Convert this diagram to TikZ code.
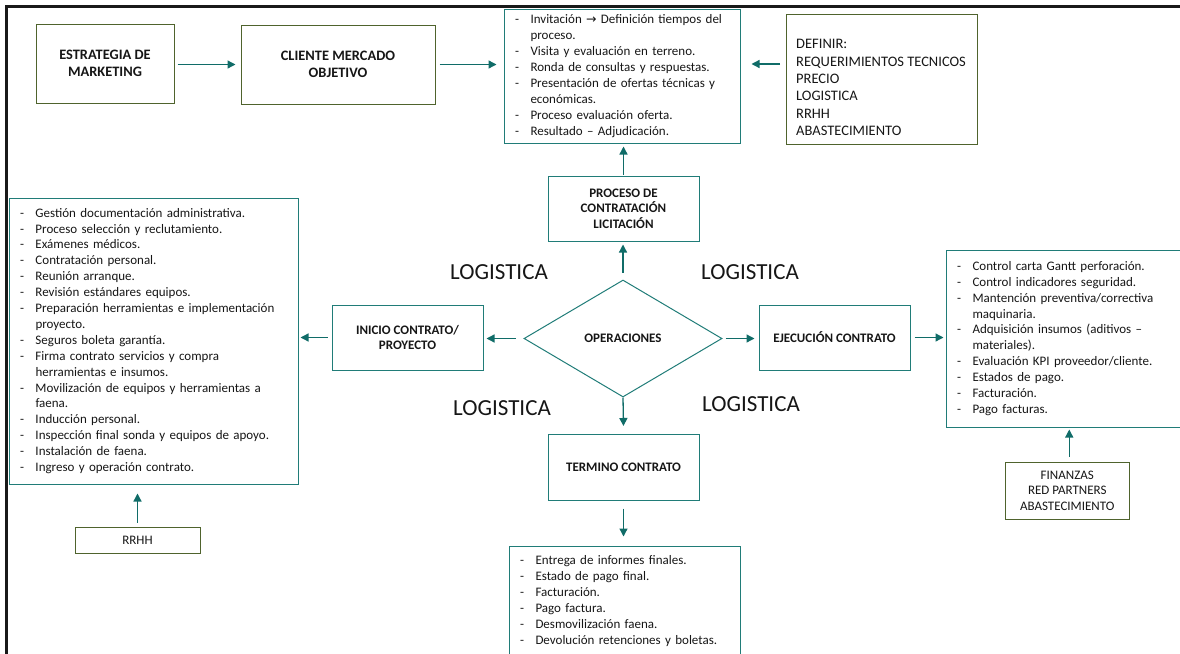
\documentclass[tikz,border=0pt]{standalone}
\usepackage{fontspec}
\setmainfont{Carlito}
\newfontfamily\symfont{DejaVu Sans}
\usetikzlibrary{arrows.meta,shapes.geometric}

\definecolor{tealline}{RGB}{32,124,120}
\definecolor{tealarrow}{RGB}{16,108,104}
\definecolor{olivegreen}{RGB}{79,99,45}
\definecolor{ink}{RGB}{22,22,22}

% list helpers: leading dash and hanging indent for continued lines
\newcommand\itm{\makebox[15.5pt][l]{-}}
\newcommand\cnt{\hspace*{15.5pt}}

\begin{document}
\begin{tikzpicture}[x=1pt,y=-1pt,
  tealbox/.style={draw=tealline, line width=1pt, inner sep=0pt, align=center, text=ink},
  greenbox/.style={draw=olivegreen, line width=1pt, inner sep=0pt, align=center, text=ink},
  listbox/.style={draw=tealline, line width=1pt, inner xsep=11pt, inner ysep=0pt,
    align=left, text=ink, font=\fontsize{13}{15.9}\selectfont},
  topbold/.style={font=\bfseries\fontsize{14.4}{17}\selectfont},
  midbold/.style={font=\bfseries\fontsize{13}{15.6}\selectfont},
  plain/.style={font=\fontsize{13}{15.6}\selectfont},
  logi/.style={text=ink, inner sep=0pt, font=\fontsize{23}{27}\selectfont},
  arr/.style={draw=tealarrow, line width=1.3pt, -{Triangle[length=8pt,width=8pt]}}
]
\useasboundingbox (0,0) rectangle (1180,653);
\clip (0,0) rectangle (1180,653);

% outer frame
\draw[line width=2.6pt, black!90] (6.5,660) -- (6.5,6.5) -- (1190,6.5);

% top row
\node[greenbox, topbold, minimum width=138pt, minimum height=79pt] (strat) at (105,63.5) {ESTRATEGIA DE\\MARKETING};
\node[greenbox, topbold, minimum width=194pt, minimum height=79pt] (cliente) at (338,64.5) {CLIENTE MERCADO\\OBJETIVO};

\node[listbox, text width=214pt, minimum width=236pt, minimum height=134pt] (lic) at (622,76) {%
\itm Invitación {\symfont\fontsize{12.5}{13}\selectfont →} Definición tiempos del\\
\cnt proceso.\\
\itm Visita y evaluación en terreno.\\
\itm Ronda de consultas y respuestas.\\
\itm Presentación de ofertas técnicas y\\
\cnt económicas.\\
\itm Proceso evaluación oferta.\\
\itm Resultado – Adjudicación.};

\node[greenbox, minimum width=190.5pt, minimum height=130pt] (defbox) at (881.75,79) {};
\node[anchor=west, align=left, inner sep=0pt, text=ink, font=\fontsize{14.5}{17.3}\selectfont] (deftext) at (796,87.5) {%
DEFINIR:\\REQUERIMIENTOS TECNICOS\\PRECIO\\LOGISTICA\\RRHH\\ABASTECIMIENTO};

% central column
\node[tealbox, midbold, minimum width=151pt, minimum height=65pt] (proc) at (623.5,208.5) {PROCESO DE\\CONTRATACIÓN\\LICITACIÓN};
\node[diamond, draw=tealline, line width=1pt, inner sep=0pt, text=ink, midbold,
  minimum width=198pt, minimum height=117pt] (ops) at (623,338.5) {OPERACIONES};
\node[tealbox, midbold, minimum width=151pt, minimum height=65.5pt] (term) at (623.5,467.25) {TERMINO CONTRATO};

\node[listbox, text width=209pt, minimum width=231pt, minimum height=110pt] (fin) at (624.5,601) {%
\itm Entrega de informes finales.\\
\itm Estado de pago final.\\
\itm Facturación.\\
\itm Pago factura.\\
\itm Desmovilización faena.\\
\itm Devolución retenciones y boletas.};

% left side
\node[tealbox, midbold, minimum width=151pt, minimum height=65pt] (inicio) at (407.5,337.5) {INICIO CONTRATO/\\PROYECTO};
\node[listbox, text width=267pt, minimum width=289pt, minimum height=286pt] (prep) at (153.5,341) {%
\itm Gestión documentación administrativa.\\
\itm Proceso selección y reclutamiento.\\
\itm Exámenes médicos.\\
\itm Contratación personal.\\
\itm Reunión arranque.\\
\itm Revisión estándares equipos.\\
\itm Preparación herramientas e implementación\\
\cnt proyecto.\\
\itm Seguros boleta garantía.\\
\itm Firma contrato servicios y compra\\
\cnt herramientas e insumos.\\
\itm Movilización de equipos y herramientas a\\
\cnt faena.\\
\itm Inducción personal.\\
\itm Inspección final sonda y equipos de apoyo.\\
\itm Instalación de faena.\\
\itm Ingreso y operación contrato.};
\node[greenbox, plain, minimum width=125pt, minimum height=26pt] (rrhh) at (137.5,540) {RRHH};

% right side
\node[tealbox, midbold, minimum width=151pt, minimum height=65pt] (ejec) at (834.5,337.5) {EJECUCIÓN CONTRATO};
\node[listbox, text width=218pt, minimum width=240pt, minimum height=177pt] (ctrl) at (1066,338.5) {%
\itm Control carta Gantt perforación.\\
\itm Control indicadores seguridad.\\
\itm Mantención preventiva/correctiva\\
\cnt maquinaria.\\
\itm Adquisición insumos (aditivos –\\
\cnt materiales).\\
\itm Evaluación KPI proveedor/cliente.\\
\itm Estados de pago.\\
\itm Facturación.\\
\itm Pago facturas.};
\node[greenbox, plain, minimum width=123.5pt, minimum height=57pt] (finz) at (1067.25,490.5) {FINANZAS\\RED PARTNERS\\ABASTECIMIENTO};

% LOGISTICA labels around the diamond
\node[logi] (lg1) at (499,272.5) {LOGISTICA};
\node[logi] (lg2) at (750,272.5) {LOGISTICA};
\node[logi] (lg3) at (502,408) {LOGISTICA};
\node[logi] (lg4) at (751,404.5) {LOGISTICA};

% connectors
\draw[arr] ([xshift=3pt]strat.east |- cliente.west) -- ([xshift=-5pt]cliente.west);
\draw[arr] ([xshift=4pt]cliente.east) -- ([xshift=-7pt]cliente.east -| lic.west);
\draw[arr] ([xshift=-6pt,yshift=15pt]defbox.west) -- ([xshift=11pt,yshift=15pt]defbox.west -| lic.east);
\draw[arr] ([yshift=1pt]proc.north) -- ([yshift=-3pt]proc.north |- lic.south);
\draw[arr] ([yshift=7pt]ops.north) -- ([yshift=-3pt]ops.north |- proc.south);
\draw[arr] ([xshift=-8pt]ops.west) -- ([xshift=3pt]ops.west -| inicio.east);
\draw[arr] ([xshift=-4pt]inicio.west) -- ([xshift=2pt]inicio.west -| prep.east);
\draw[arr] ([yshift=4pt]rrhh.north) -- ([yshift=-9pt]rrhh.north |- prep.south);
\draw[arr] ([xshift=3pt]ops.east) -- ([xshift=-4pt]ops.east -| ejec.west);
\draw[arr] ([xshift=4pt]ejec.east) -- ([xshift=-2pt]ejec.east -| ctrl.west);
\draw[arr] ([xshift=2pt,yshift=5pt]finz.north) -- ([xshift=2pt,yshift=-2pt]finz.north |- ctrl.south);
\draw[arr] (ops.south) -- ([yshift=8pt]term.north);
\draw[arr] ([yshift=-8pt]term.south) -- ([yshift=9pt]term.south |- fin.north);
\end{tikzpicture}
\end{document}
